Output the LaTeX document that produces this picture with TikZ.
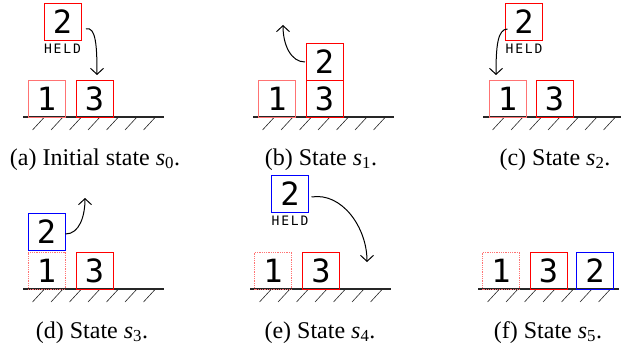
\documentclass[tikz,border=0pt]{standalone}
\usepackage{fontspec}
\setmainfont{Liberation Serif}
\newfontfamily\digitfont{DejaVu Sans Mono}
\newfontfamily\heldfont[LetterSpace=14]{DejaVu Sans Mono}
\usetikzlibrary{arrows.meta}
\newcommand\groundline[2]{%
  \draw[groundst] (#1,#2) -- ++(141,0);
  \foreach \i in {0,...,6} \draw[hatchst] ({#1+9.5+18.5*\i},{#2+13}) -- ++(12,-13);
}
\begin{document}
\begin{tikzpicture}[x=1pt,y=-1pt,
  blk/.style={draw, minimum size=37pt, inner sep=0pt, outer sep=0pt, line width=0.8pt,
    font=\digitfont\fontsize{32}{32}\selectfont},
  redblk/.style={blk, draw=red},
  paleblk/.style={blk, draw=red!55},
  dotblk/.style={blk, draw=red!55, densely dotted},
  blueblk/.style={blk, draw=blue},
  held/.style={font=\heldfont\fontsize{13}{13}\selectfont, inner sep=0pt},
  captext/.style={font=\fontsize{24}{28}\selectfont, anchor=base, inner sep=0pt},
  arr/.style={-{Straight Barb[length=6pt,width=13pt,line width=1pt]}, line width=1pt},
  groundst/.style={line width=1.1pt, black!85},
  hatchst/.style={line width=0.6pt, black!85},
  ]
\useasboundingbox (0,0) rectangle (621,350);

% ---------- (a)
\groundline{23}{117}
\node[redblk] (a2) at (62.5,21.5) {2};
\node[held] (ha) at (62.5,49) {HELD};
\node[paleblk] (a1) at (46.5,98.5) {1};
\node[redblk] (a3) at (94.5,98.5) {3};
\coordinate (as) at ([shift={(5,7.5)}]a2.east);
\coordinate (ae) at ([shift={(2.5,-5)}]a3.north);
\draw[arr] (as) .. controls +(10,-3) and +(0,-28) .. (ae);
\node[captext] (capa) at (95,165) {(a) Initial state \textit{s}\textsubscript{0}.};

% ---------- (b)
\groundline{253}{117}
\node[paleblk] (b1) at (277,98.5) {1};
\node[redblk] (b3) at (324.5,98.5) {3};
\node[redblk] (b2) at (324.5,61.5) {2};
\coordinate (bs) at ([shift={(-1,0.5)}]b2.west);
\coordinate (be) at (283,25);
\draw[arr] (bs) .. controls +(-14,0) and +(0,20) .. (be);
\node[captext] (capb) at (321,165) {(b) State \textit{s}\textsubscript{1}.};

% ---------- (c)
\groundline{483}{117}
\node[redblk] (c2) at (524,21.5) {2};
\node[held] (hc) at (524,49) {HELD};
\node[paleblk] (c1) at (507.5,98.5) {1};
\node[redblk] (c3) at (554.5,98.5) {3};
\coordinate (cs) at ([shift={(2,7.5)}]c2.west);
\coordinate (ce) at ([shift={(-11.5,-5)}]c1.north);
\draw[arr] (cs) .. controls +(-10,0) and +(0,-28) .. (ce);
\node[captext] (capc) at (555,165) {(c) State \textit{s}\textsubscript{2}.};

% ---------- (d)
\groundline{23}{289}
\node[dotblk] (d1) at (46.5,270.5) {1};
\node[blueblk] (d2) at (46.5,232) {2};
\node[redblk] (d3) at (94.5,270.5) {3};
\coordinate (ds) at ([shift={(0.5,2)}]d2.east);
\coordinate (de) at (85,198);
\draw[arr] (ds) .. controls +(14,0) and +(0,18) .. (de);
\node[captext] (capd) at (92,338) {(d) State \textit{s}\textsubscript{3}.};

% ---------- (e)
\groundline{250}{289}
\node[blueblk] (e2) at (290,193.5) {2};
\node[held] (he) at (290,221) {HELD};
\node[dotblk] (e1) at (273,270.5) {1};
\node[redblk] (e3) at (321,270.5) {3};
\coordinate (es) at ([shift={(3,3.5)}]e2.east);
\coordinate (ee) at (367,262);
\draw[arr] (es) .. controls +(30,-5) and +(0,-35) .. (ee);
\node[captext] (cape) at (320,338) {(e) State \textit{s}\textsubscript{4}.};

% ---------- (f)
\groundline{478}{289}
\node[dotblk] (f1) at (501,270.5) {1};
\node[redblk] (f3) at (548.5,270.5) {3};
\node[blueblk] (f2) at (595,270.5) {2};
\node[captext] (capf) at (548,338) {(f) State \textit{s}\textsubscript{5}.};
\end{tikzpicture}
\end{document}
